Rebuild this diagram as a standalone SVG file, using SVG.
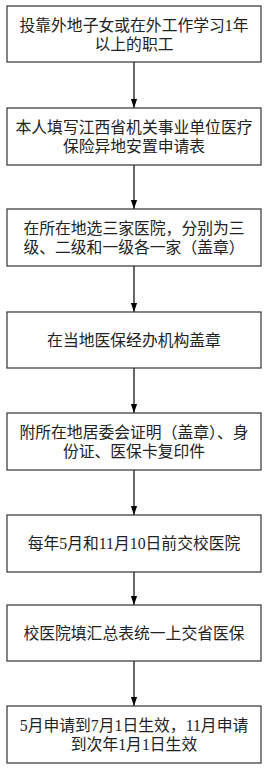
<svg xmlns="http://www.w3.org/2000/svg" width="270" height="772" viewBox="0 0 270 772">
<style>
.box{fill:#fff;stroke:#333;stroke-width:1.2}
.t{font-family:"Liberation Serif","Noto Sans CJK SC",serif;font-size:15.8px;fill:#222;text-anchor:middle}
.c{stroke:#000;stroke-width:1.2;fill:none}
</style>
<defs>
<marker id="ah" markerUnits="userSpaceOnUse" markerWidth="9" markerHeight="14" refX="13" refY="4.5" orient="auto" viewBox="0 0 13 9">
<path d="M0,0 L13,4.5 L0,9 Z" fill="#000"/>
</marker>
</defs>
<rect width="270" height="772" fill="#fff"/>
<g id="connectors">
<line class="c" x1="134" y1="62" x2="134" y2="108" marker-end="url(#ah)"/>
<line class="c" x1="134" y1="165" x2="134" y2="209" marker-end="url(#ah)"/>
<line class="c" x1="134" y1="266" x2="134" y2="312" marker-end="url(#ah)"/>
<line class="c" x1="134" y1="368" x2="134" y2="413" marker-end="url(#ah)"/>
<line class="c" x1="134" y1="470" x2="134" y2="515" marker-end="url(#ah)"/>
<line class="c" x1="134" y1="572" x2="134" y2="605" marker-end="url(#ah)"/>
<line class="c" x1="134" y1="661" x2="134" y2="706" marker-end="url(#ah)"/>
</g>
<g id="n1"><rect class="box" x="7" y="6" width="254" height="56"/>
<text class="t" x="134" y="31">投靠外地子女或在外工作学习1年</text>
<text class="t" x="134" y="50">以上的职工</text></g>
<g id="n2"><rect class="box" x="7" y="108" width="254" height="57"/>
<text class="t" x="134" y="133">本人填写江西省机关事业单位医疗</text>
<text class="t" x="134" y="152">保险异地安置申请表</text></g>
<g id="n3"><rect class="box" x="7" y="209" width="254" height="57"/>
<text class="t" x="134" y="234">在所在地选三家医院，分别为三</text>
<text class="t" x="134" y="253">级、二级和一级各一家（盖章）</text></g>
<g id="n4"><rect class="box" x="7" y="312" width="254" height="56"/>
<text class="t" x="134" y="346">在当地医保经办机构盖章</text></g>
<g id="n5"><rect class="box" x="7" y="413" width="254" height="57"/>
<text class="t" x="134" y="438">附所在地居委会证明（盖章）、身</text>
<text class="t" x="134" y="457">份证、医保卡复印件</text></g>
<g id="n6"><rect class="box" x="7" y="515" width="254" height="57"/>
<text class="t" x="134" y="549">每年5月和11月10日前交校医院</text></g>
<g id="n7"><rect class="box" x="7" y="605" width="254" height="56"/>
<text class="t" x="134" y="639">校医院填汇总表统一上交省医保</text></g>
<g id="n8"><rect class="box" x="7" y="706" width="254" height="57"/>
<text class="t" x="134" y="731">5月申请到7月1日生效，11月申请</text>
<text class="t" x="134" y="750">到次年1月1日生效</text></g>
</svg>
